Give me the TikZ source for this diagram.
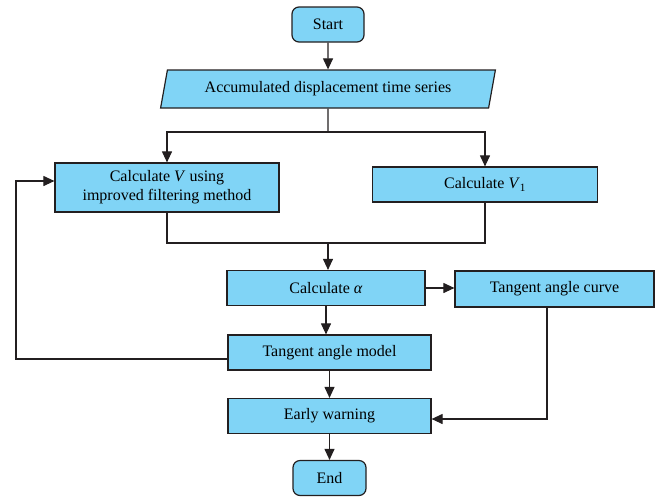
\documentclass[tikz,border=0pt]{standalone}
\usepackage{fontspec}
\setmainfont{Liberation Serif}
\usetikzlibrary{arrows.meta,positioning,shapes.geometric,calc}
\definecolor{fcFill}{HTML}{80D4F6}
\definecolor{fcInk}{HTML}{231F20}
\tikzset{
  box/.style     ={draw=fcInk,line width=1.2pt,fill=fcFill,inner sep=2pt,
                   font=\fontsize{16}{19}\selectfont,align=center},
  procbox/.style ={box,minimum height=35pt},
  termbox/.style ={box,rounded corners=7pt,minimum width=72pt,minimum height=35pt},
  iobox/.style   ={box,trapezium,trapezium left angle=74,trapezium right angle=106,
                   trapezium stretches=true,minimum width=336pt,minimum height=38pt},
  flow/.style    ={-{Triangle[length=11pt,width=10pt]},fcInk,line width=1.1pt},
  link/.style    ={fcInk,line width=1.1pt},
}
\begin{document}
\begin{tikzpicture}[x=1pt,y=-1pt]
\useasboundingbox (0,0) rectangle (655,496);

% main column
\node[termbox] (start) at (328,24.5) {Start};
\node[iobox] (series) at (328,89) {Accumulated displacement time series};
\node[procbox,minimum width=224pt,minimum height=49pt] (calcV) at (167,187.5)
  {Calculate \textit{V} using\\improved filtering method};
\node[procbox,minimum width=225pt] (calcVone) at (485,184.5)
  {Calculate \textit{V}\textsubscript{1}};
\node[procbox,minimum width=198pt] (alpha) at (326,288) {Calculate \textit{α}};
\node[procbox,minimum width=199pt,minimum height=36pt] (curve) at (554.5,289)
  {Tangent angle curve};
\node[procbox,minimum width=203pt] (model) at (329.5,352.5) {Tangent angle model};
\node[procbox,minimum width=203pt] (warn) at (329.5,416) {Early warning};
\node[termbox,minimum width=73pt] (end) at (329.5,478) {End};

% split and merge points
\coordinate (split) at (328,132);
\coordinate (merge) at (328,243);

\draw[flow] (start) -- (series);
\draw[link] (series.south) -- (split);
\draw[flow] (split) -| (calcV.north);
\draw[flow] (split) -| (calcVone.north);
\draw[link] (calcV.south) |- (merge);
\draw[link] (calcVone.south) |- (merge);
\draw[flow] (merge) -- (merge |- alpha.north);
\draw[flow] (alpha.east) -- (curve.west |- alpha.east);
\draw[flow] (alpha.south) -- (alpha.south |- model.north);
\draw[flow] (model) -- (warn);
\draw[flow] (warn) -- (end);

% feedback loop, left
\coordinate (loopout) at ($(model.west)+(0,6.5)$);
\coordinate (loopin) at ($(calcV.west)+(0,-6.5)$);
\coordinate (loopx) at (16,0);
\draw[flow] (loopout) -- (loopout -| loopx) |- (loopin);

% curve to warning, right
\coordinate (curvedrop) at ($(curve.south)+(-7.5,0)$);
\draw[flow] (curvedrop) |- ($(warn.east)+(0,3)$);
\end{tikzpicture}
\end{document}
